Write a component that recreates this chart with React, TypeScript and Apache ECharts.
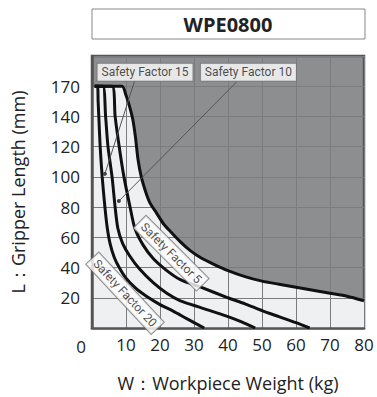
import React, { useEffect, useRef } from "react";
import * as echarts from "echarts";

// Allowable-weight curves: [weight kg, gripper length on linear plot scale]
// (the top gridline at 160 on the plot scale is labelled "170")
const sf5: number[][] = [
  [0.8, 160], [8.8, 160], [10, 154], [11, 147], [12, 138], [12.8, 126], [13.5, 112],
  [14.5, 100], [15.8, 90], [17, 83], [19, 76], [21, 69], [23, 64], [26, 57], [29, 51],
  [32, 46.5], [36, 42], [40, 38], [45, 34], [50, 31], [55, 29], [60, 27], [65, 25],
  [70, 23], [75, 21], [80, 18],
];
const sf10: number[][] = [
  [0.8, 160], [5.9, 160], [6.8, 140], [8.0, 120], [9.4, 100], [11.2, 80], [12.6, 66],
  [15, 55], [18, 46], [22, 38], [26, 32], [32, 27], [40, 20], [45, 16], [50, 11.5],
  [55, 7.5], [60, 3.5], [64, 0],
];
const sf15: number[][] = [
  [0.8, 160], [3.2, 160], [4.0, 140], [4.7, 120], [5.9, 100], [6.8, 80], [7.6, 66],
  [9, 56], [11, 48], [14, 39], [18, 30], [22, 23], [26, 18], [32, 13.5], [40, 7.5],
  [44, 4], [48, 0],
];
const sf20: number[][] = [
  [0.8, 160], [1.6, 160], [1.8, 150], [2.0, 140], [2.4, 120], [3.0, 100], [3.8, 80],
  [4.5, 66], [5.3, 56], [6.5, 47], [8, 40], [10, 33], [13, 26], [16, 21], [20, 15.5],
  [24, 11], [28, 6], [33, 0],
];

const yTickValues = [20, 40, 60, 80, 100, 120, 140, 160];
const yTickText = ["20", "40", "60", "80", "100", "120", "140", "170"];

const labelNames = ["Safety Factor 15", "Safety Factor 10", "Safety Factor 5", "Safety Factor 20"];
const labelPos: number[][] = [[15.6, 169.3], [46, 169.3], [23.3, 49.5], [9.7, 23]];
const labelRotate = [0, 0, -45, -47];

const pointer15: number[][] = [[12.6, 164], [3.8, 102]];
const pointer10: number[][] = [[42.6, 163], [7.9, 84]];

const FONT = "'Open Sans', 'Noto Sans', sans-serif";
const LABEL_FONT = "Roboto, 'Noto Sans', sans-serif";

export default function App() {
  const ref = useRef<HTMLDivElement>(null);
  useEffect(() => {
    if (!ref.current) return;
    document.body.style.margin = "0";
    const chart = echarts.init(ref.current, undefined, { renderer: "svg" });

    const curve = (data: number[][]) => ({
      type: "line",
      data,
      showSymbol: false,
      symbol: "none",
      smooth: 0.25,
      lineStyle: { color: "#111", width: 3 },
      z: 3,
      silent: true,
    });

    const pointer = (data: number[][]) => ({
      type: "line",
      data: [
        { value: data[0], symbolSize: 0 },
        { value: data[1], symbolSize: 4 },
      ],
      symbol: "circle",
      showSymbol: true,
      lineStyle: { color: "#555", width: 1 },
      itemStyle: { color: "#444" },
      z: 4,
      silent: true,
    });

    chart.setOption({
      animation: false,
      grid: {
        left: 92,
        right: 13,
        top: 56,
        bottom: 69,
        show: true,
        backgroundColor: "#8d8e90",
        borderColor: "#555",
        borderWidth: 2.5,
      },
      xAxis: {
        type: "value",
        min: 0,
        max: 80,
        interval: 10,
        z: 2,
        axisLine: { show: true, lineStyle: { color: "#555", width: 2.5 } },
        axisTick: { show: false },
        splitLine: { show: true, lineStyle: { color: "#7b7c7e", width: 1 } },
        axisLabel: {
          color: "#222",
          fontSize: 17,
          fontFamily: FONT,
          margin: 8,
          formatter: (v: number) => (v === 0 ? "" : String(v)),
        },
        name: "W：Workpiece Weight (kg)",
        nameLocation: "middle",
        nameGap: 46,
        nameTextStyle: { color: "#222", fontSize: 18, fontFamily: FONT },
      },
      yAxis: {
        type: "value",
        min: 0,
        max: 180,
        interval: 20,
        z: 2,
        axisLine: { show: true, lineStyle: { color: "#555", width: 2.5 } },
        axisTick: { show: false },
        splitLine: { show: true, lineStyle: { color: "#7b7c7e", width: 1 } },
        axisLabel: {
          color: "#222",
          fontSize: 17,
          fontFamily: FONT,
          margin: 12,
          formatter: (v: number) => {
            const i = yTickValues.indexOf(v);
            return i >= 0 ? yTickText[i] : "";
          },
        },
        name: "L：Gripper Length (mm)",
        nameLocation: "middle",
        nameGap: 65,
        nameTextStyle: { color: "#222", fontSize: 18, fontFamily: FONT },
      },
      graphic: [
        {
          type: "rect",
          shape: { x: 92, y: 9, width: 273, height: 30 },
          style: { fill: "#fff", stroke: "#888", lineWidth: 1 },
        },
        {
          type: "text",
          x: 228,
          y: 24.5,
          style: {
            text: "WPE0800",
            fill: "#222",
            font: `bold 20px ${FONT}`,
            textAlign: "center",
            textVerticalAlign: "middle",
          },
        },
        {
          type: "text",
          x: 81,
          y: 346,
          style: {
            text: "0",
            fill: "#222",
            font: `17px ${FONT}`,
            textAlign: "center",
            textVerticalAlign: "middle",
          },
        },
      ],
      series: [
        {
          type: "line",
          data: [[0, 160], ...sf5],
          showSymbol: false,
          symbol: "none",
          smooth: 0.25,
          lineStyle: { width: 0 },
          areaStyle: { color: "#eff0f2", opacity: 1 },
          z: 1,
          silent: true,
        },
        curve(sf5),
        curve(sf10),
        curve(sf15),
        curve(sf20),
        pointer(pointer15),
        pointer(pointer10),
        {
          type: "scatter",
          symbolSize: 0,
          z: 5,
          silent: true,
          data: labelNames.map((n, i) => ({
            name: n,
            value: labelPos[i],
            label: { rotate: labelRotate[i] },
          })),
          label: {
            show: true,
            position: "inside",
            formatter: (p: any) => p.name,
            color: "#222",
            fontSize: 12,
            fontFamily: LABEL_FONT,
            backgroundColor: "#fff",
            borderColor: "#777",
            borderWidth: 1,
            padding: [3, 4, 2, 4],
          },
        },
      ],
    });
    return () => chart.dispose();
  }, []);
  return <div ref={ref} style={{ width: 377, height: 397 }} />;
}
